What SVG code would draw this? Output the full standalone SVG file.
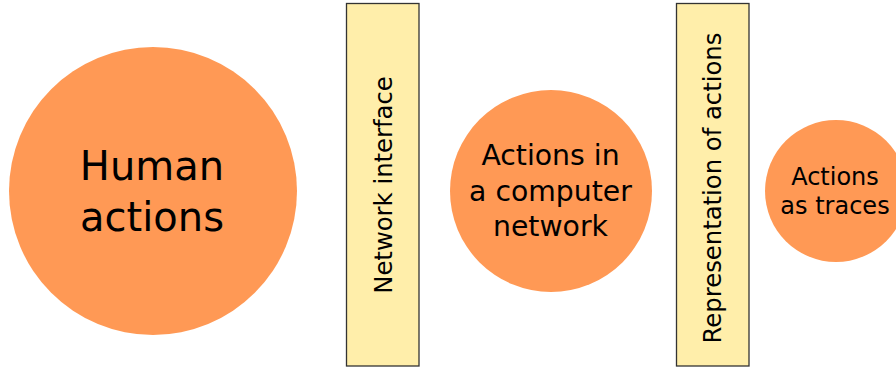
<svg xmlns="http://www.w3.org/2000/svg" width="896" height="369" viewBox="0 0 896 369">
<style>
.c{fill:#ff9955;stroke:none}
.r{fill:#ffeeaa;stroke:#333333;stroke-width:1.3}
text{font-family:"DejaVu Sans","Liberation Sans",sans-serif;fill:#000;text-anchor:middle}
</style>
<rect width="896" height="369" fill="#ffffff"/>
<g id="connectors"></g>
<g id="human-actions">
<circle class="c" cx="153" cy="191" r="144"/>
<text x="152" y="180" font-size="40">Human</text>
<text x="152" y="230.5" font-size="40">actions</text>
</g>
<g id="network-interface">
<rect class="r" x="346.5" y="3.5" width="72.5" height="362.5"/>
<text transform="translate(391.5 185) rotate(-90)" font-size="24.3">Network interface</text>
</g>
<g id="actions-network">
<circle class="c" cx="551" cy="191" r="101"/>
<text x="550.5" y="165" font-size="28.3">Actions in</text>
<text x="550.5" y="200.5" font-size="28.3">a computer</text>
<text x="550.5" y="236" font-size="28.3">network</text>
</g>
<g id="representation">
<rect class="r" x="676.5" y="3.5" width="72.5" height="362.5"/>
<text transform="translate(720.5 188) rotate(-90)" font-size="24.3">Representation of actions</text>
</g>
<g id="actions-traces">
<circle class="c" cx="836" cy="191" r="71"/>
<text x="835" y="185" font-size="24">Actions</text>
<text x="835" y="214" font-size="24">as traces</text>
</g>
</svg>
